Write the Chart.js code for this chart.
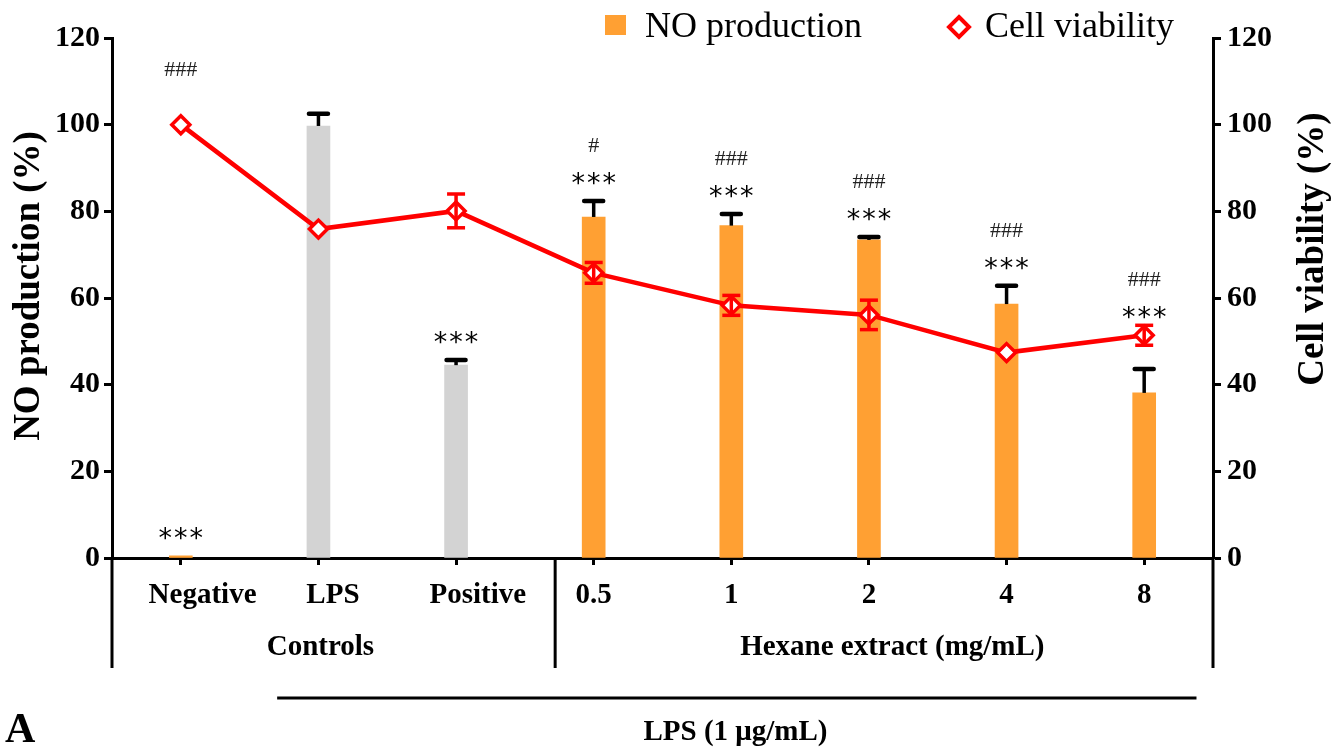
<!DOCTYPE html>
<html>
<head>
<meta charset="utf-8">
<script src="https://cdn.jsdelivr.net/npm/chart.js@4.4.1/dist/chart.umd.min.js"></script>
<style>
  html, body { margin: 0; padding: 0; background: #ffffff; }
</style>
</head>
<body>
<canvas id="chart" width="1343" height="751"></canvas>
<script>
// Datos
const categories     = ['Negative', 'LPS', 'Positive', '0.5', '1', '2', '4', '8'];
const noProduction   = [0.5, 99.7, 44.5, 78.7, 76.7, 73.4, 58.6, 38.1];
const noError        = [0, 2.8, 1.2, 3.7, 2.7, 0.7, 4.2, 5.5];
const viability      = [100, 75.9, 80.1, 65.8, 58.3, 56.1, 47.4, 51.4];
const viabilityError = [0, 0, 3.9, 2.4, 2.3, 3.4, 0, 2.3];
const starLabels     = ['***', '', '***', '***', '***', '***', '***', '***'];
const hashLabels     = ['###', '', '', '#', '###', '###', '###', '###'];
const yTicks         = [0, 20, 40, 60, 80, 100, 120];

const ORANGE = '#ffa033';
const GREY   = '#d3d3d3';
const RED    = '#ff0000';
const SERIF  = '"Liberation Serif", "Times New Roman", serif';

const barColors = categories.map((c, i) => (i === 1 || i === 2) ? GREY : ORANGE);

// en la figura original las etiquetas de controles van algo corridas a la derecha
const labelIndent = ['      ', '    ', '      ', '', '', '', '', ''];

function seg(ctx, x1, y1, x2, y2) {
  ctx.beginPath();
  ctx.moveTo(x1, y1);
  ctx.lineTo(x2, y2);
  ctx.stroke();
}

// Barras de error, anotaciones, leyenda y etiquetas de grupo
const extras = {
  id: 'extras',
  afterDatasetDraw(chart, args) {
    const ctx = chart.ctx;
    const x = chart.scales.x;
    if (args.meta.type === 'bar') {
      const y = chart.scales.y;
      ctx.save();
      ctx.strokeStyle = '#000';
      noProduction.forEach((v, i) => {
        const e = noError[i];
        if (!e) return;
        const px = x.getPixelForValue(i);
        const base = y.getPixelForValue(v), top = y.getPixelForValue(v + e);
        ctx.lineWidth = 3.5;
        seg(ctx, px, base, px, top);
        ctx.lineWidth = 4.5;
        ctx.lineCap = 'round';
        seg(ctx, px - 9.5, top, px + 9.5, top);
        ctx.lineCap = 'butt';
      });
      ctx.restore();
    } else {
      const y1 = chart.scales.y1;
      ctx.save();
      ctx.strokeStyle = RED;
      ctx.lineWidth = 3.5;
      viability.forEach((v, i) => {
        const e = viabilityError[i];
        if (!e) return;
        const px = x.getPixelForValue(i);
        const hi = y1.getPixelForValue(v + e), lo = y1.getPixelForValue(v - e);
        seg(ctx, px, hi, px, lo);
        seg(ctx, px - 9, hi, px + 9, hi);
        seg(ctx, px - 9, lo, px + 9, lo);
      });
      ctx.restore();
    }
  },
  afterDraw(chart) {
    const ctx = chart.ctx;
    const x = chart.scales.x, y = chart.scales.y;
    const area = chart.chartArea;
    ctx.save();

    // asteriscos y almohadillas
    categories.forEach((c, i) => {
      const px = x.getPixelForValue(i);
      const barTop = noProduction[i] + noError[i];
      const lineTop = viability[i];
      let starBase = barTop;
      if (lineTop > barTop && lineTop - barTop < 12) starBase = lineTop;
      ctx.fillStyle = '#000';
      ctx.textAlign = 'center';
      ctx.textBaseline = 'alphabetic';
      if (starLabels[i]) {
        ctx.font = '27px "DejaVu Sans", sans-serif';
        ctx.letterSpacing = '2px';
        ctx.fillText(starLabels[i], px + 1, y.getPixelForValue(starBase) - 24 + 15);
        ctx.letterSpacing = '0px';
      }
      if (hashLabels[i]) {
        ctx.fillStyle = '#222';
        ctx.font = '22px ' + SERIF;
        const hb = Math.max(barTop, lineTop);
        ctx.fillText(hashLabels[i], px, y.getPixelForValue(hb) - 56 + 7);
      }
    });

    // leyenda
    ctx.fillStyle = ORANGE;
    ctx.fillRect(605, 15, 21, 20);
    ctx.fillStyle = '#000';
    ctx.font = '36px ' + SERIF;
    ctx.textAlign = 'left';
    ctx.fillText('NO production', 645, 37);
    ctx.fillText('Cell viability', 985, 37);
    ctx.beginPath();
    ctx.moveTo(959, 17); ctx.lineTo(969, 27); ctx.lineTo(959, 37); ctx.lineTo(949, 27); ctx.closePath();
    ctx.fillStyle = '#fff';
    ctx.fill();
    ctx.strokeStyle = RED;
    ctx.lineWidth = 4;
    ctx.stroke();

    // títulos de los ejes (rotados)
    ctx.fillStyle = '#000';
    ctx.font = 'bold 37px ' + SERIF;
    ctx.textAlign = 'center';
    ctx.textBaseline = 'middle';
    ctx.save();
    ctx.translate(29, 286);
    ctx.rotate(-Math.PI / 2);
    ctx.fillText('NO production (%)', 0, 0);
    ctx.restore();
    ctx.save();
    ctx.translate(1313, 249);
    ctx.rotate(-Math.PI / 2);
    ctx.fillText('Cell viability (%)', 0, 0);
    ctx.restore();

    // separadores de grupo bajo el eje
    const divider = x.getPixelForValue(2.72);
    ctx.strokeStyle = '#000';
    ctx.lineWidth = 3;
    seg(ctx, area.left, area.bottom, area.left, 668);
    seg(ctx, divider, area.bottom, divider, 668);
    seg(ctx, area.right, area.bottom, area.right, 668);
    seg(ctx, x.getPixelForValue(0.7), 698, x.getPixelForValue(7.38), 698);

    ctx.textBaseline = 'alphabetic';
    ctx.font = 'bold 29px ' + SERIF;
    ctx.fillText('Controls', x.getPixelForValue(1) + 2, 655);
    ctx.fillText('Hexane extract (mg/mL)', x.getPixelForValue(5.17), 655);
    ctx.fillText('LPS (1 \u03bcg/mL)', x.getPixelForValue(4.03), 740);
    ctx.textAlign = 'left';
    ctx.font = 'bold 42px ' + SERIF;
    ctx.fillText('A', 5, 742);
    ctx.restore();
  }
};

const tickFont = { family: SERIF, size: 30, weight: 'bold' };

new Chart(document.getElementById('chart'), {
  type: 'bar',
  data: {
    labels: categories,
    datasets: [
      {
        type: 'line',
        label: 'Cell viability',
        data: viability,
        yAxisID: 'y1',
        order: 0,
        borderColor: RED,
        borderWidth: 4.5,
        tension: 0,
        pointStyle: 'rectRot',
        pointRadius: 9,
        pointBorderWidth: 3.5,
        pointBorderColor: RED,
        pointBackgroundColor: '#ffffff'
      },
      {
        type: 'bar',
        label: 'NO production',
        data: noProduction,
        yAxisID: 'y',
        order: 1,
        backgroundColor: barColors,
        barThickness: 23
      }
    ]
  },
  options: {
    responsive: false,
    animation: false,
    layout: { padding: { top: 38, left: 0, right: 0, bottom: 0 } },
    plugins: { legend: { display: false }, tooltip: { enabled: false } },
    scales: {
      x: {
        offset: true,
        grid: { display: true, drawOnChartArea: false, offset: false, tickLength: 7, tickWidth: 3, tickColor: '#000' },
        border: { color: '#000', width: 3 },
        ticks: {
          color: '#000', font: { family: SERIF, size: 29, weight: 'bold' }, padding: 13,
          maxRotation: 0, autoSkip: false,
          callback: (v, i) => labelIndent[i] + categories[i]
        },
        afterFit: s => { s.height = 193; }
      },
      y: {
        position: 'left',
        min: 0, max: 120,
        afterBuildTicks: s => { s.ticks = yTicks.map(v => ({ value: v })); },
        ticks: { color: '#000', font: tickFont, padding: 4 },
        grid: { drawOnChartArea: false, tickLength: 8, tickWidth: 3, tickColor: '#000' },
        border: { color: '#000', width: 3 },
        afterFit: s => { s.width = 112; }
      },
      y1: {
        position: 'right',
        min: 0, max: 120,
        afterBuildTicks: s => { s.ticks = yTicks.map(v => ({ value: v })); },
        ticks: { color: '#000', font: tickFont, padding: 6 },
        grid: { drawOnChartArea: false, tickLength: 8, tickWidth: 3, tickColor: '#000' },
        border: { color: '#000', width: 3 },
        afterFit: s => { s.width = 130; }
      }
    }
  },
  plugins: [extras]
});
</script>
</body>
</html>
